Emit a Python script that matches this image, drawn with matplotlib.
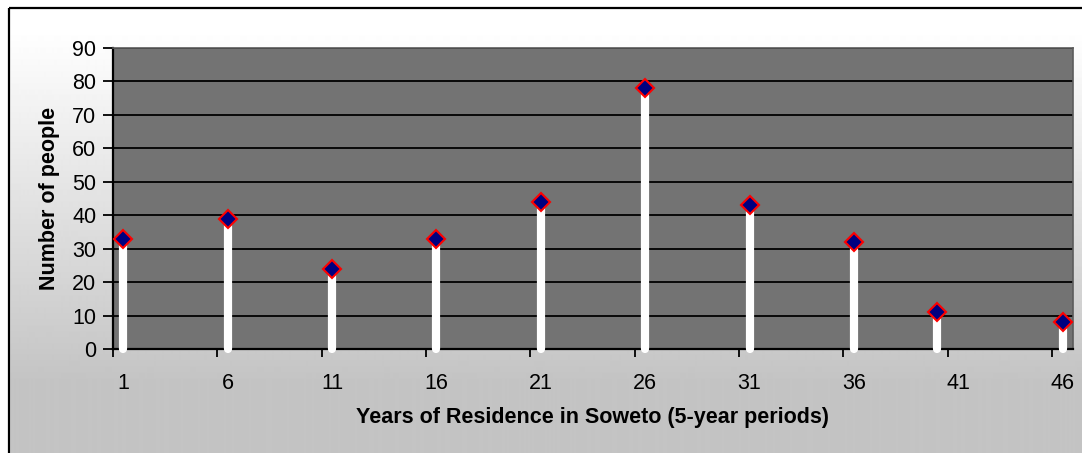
import matplotlib
matplotlib.use("Agg")
from matplotlib import pyplot as plt
from matplotlib.patches import Rectangle
import numpy as np

# periods of residence (category index) and head count per period
years = [1, 6, 11, 16, 21, 26, 31, 36, 40, 46]
people = [33, 39, 24, 33, 44, 78, 43, 32, 11, 8]
label_pos = [1, 6, 11, 16, 21, 26, 31, 36, 41, 46]
label_txt = ["1", "6", "11", "16", "21", "26", "31", "36", "41", "46"]
y_ticks = list(range(0, 91, 10))

plt.rcParams['font.family'] = ['Liberation Sans', 'DejaVu Sans']

W, H = 1082, 453
fig = plt.figure(figsize=(W / 100, H / 100), dpi=100)

# white-to-grey background wash
bg = fig.add_axes([0, 0, 1, 1], zorder=-2)
rows = np.arange(H)
t = np.clip((rows - 30) / (380 - 30), 0, 1)
level = 1.0 - t * (1.0 - 0xC4 / 255)
grad = np.repeat(level[:, None], 2, axis=1)
bg.imshow(grad, cmap='gray', vmin=0, vmax=1, aspect='auto',
          extent=[0, W, H, 0], interpolation='bilinear')
bg.set_xlim(0, W)
bg.set_ylim(H, 0)
bg.axis('off')
# white margin outside the frame, then the black frame
bg.add_patch(Rectangle((0, 0), W, 8, color='white', zorder=1))
bg.add_patch(Rectangle((0, 0), 9, H, color='white', zorder=1))
bg.add_patch(Rectangle((9, 8), W + 20, H + 20, fill=False,
                       edgecolor='black', linewidth=1.6, zorder=2))

left, right, top, bottom = 113, 1073, 48, 349
ax = fig.add_axes([left / W, 1 - bottom / H, (right - left) / W, (bottom - top) / H])
ax.set_facecolor('#737373')

ax.set_xlim(0.5, 46.5)
ax.set_ylim(0, 90)

ax.set_axisbelow(True)
ax.yaxis.grid(True, color='black', linewidth=1.3)

stems = ax.vlines(years, 0, people, colors='white', linewidth=5.9,
                  zorder=3, clip_on=False)
stems.set_capstyle('round')
ax.plot(years, people, ls='none', marker='D', ms=9.2, mfc='#000080',
        mec='#FF0000', mew=1.5, zorder=4, clip_on=False)

# ticks between categories, labels centred on categories
ax.set_xticks(np.arange(0.5, 46.6, 5))
ax.set_xticklabels([])
ax.set_xticks(label_pos, minor=True)
ax.set_xticklabels(label_txt, minor=True)
ax.tick_params(axis='x', which='major', direction='out', length=6, width=1.3, color='black')
ax.tick_params(axis='x', which='minor', length=0, pad=17.5, labelsize=15.5)

ax.set_yticks(y_ticks)
ax.tick_params(axis='y', direction='out', length=7, width=1.3, pad=5, labelsize=15.5)

for s in ['left', 'bottom']:
    ax.spines[s].set_color('black')
    ax.spines[s].set_linewidth(1.6)
for s in ['top', 'right']:
    ax.spines[s].set_color('#5c5c5c')
    ax.spines[s].set_linewidth(1.2)

ax.set_xlabel("Years of Residence in Soweto (5-year periods)",
              fontsize=15.5, fontweight='bold', labelpad=9)
ax.set_ylabel("Number of people", fontsize=15.5, fontweight='bold', labelpad=9)

fig.savefig("out.png", dpi=100)
